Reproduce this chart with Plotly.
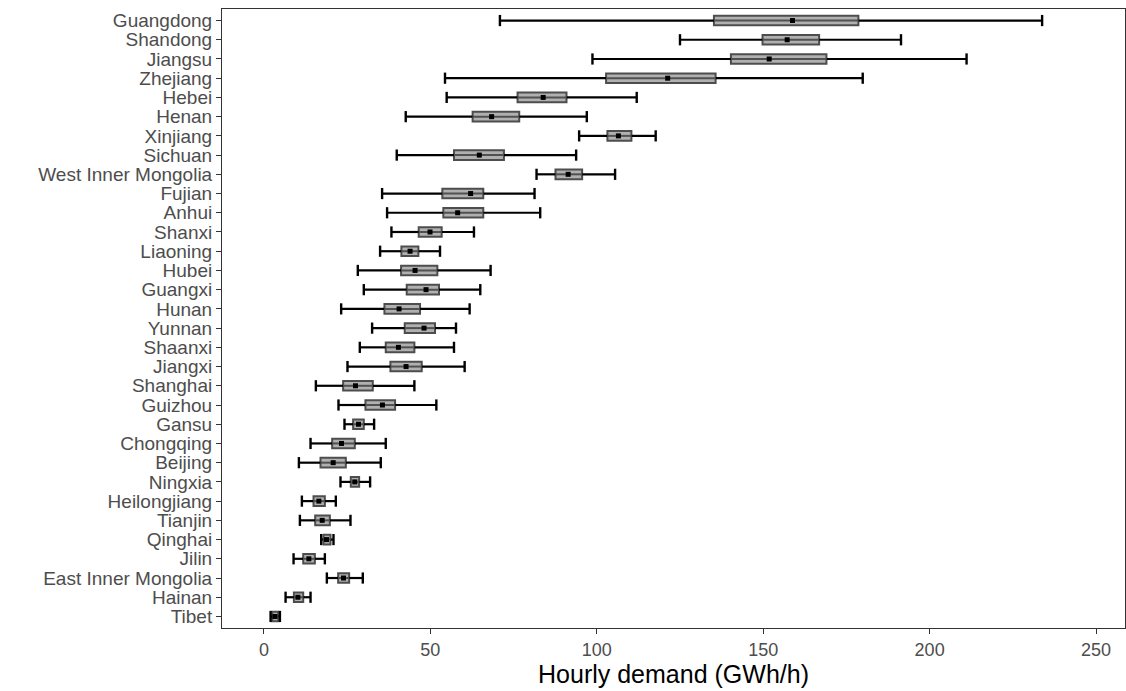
import plotly.graph_objects as go

provinces = ["Guangdong", "Shandong", "Jiangsu", "Zhejiang", "Hebei", "Henan", "Xinjiang",
             "Sichuan", "West Inner Mongolia", "Fujian", "Anhui", "Shanxi", "Liaoning", "Hubei",
             "Guangxi", "Hunan", "Yunnan", "Shaanxi", "Jiangxi", "Shanghai", "Guizhou", "Gansu",
             "Chongqing", "Beijing", "Ningxia", "Heilongjiang", "Tianjin", "Qinghai", "Jilin",
             "East Inner Mongolia", "Hainan", "Tibet"]

min_v = [70.9, 125.0, 98.7, 54.4, 54.9, 42.6, 94.7, 39.9, 81.9, 35.5, 37.0, 38.3, 34.9, 28.2,
         30.0, 23.2, 32.5, 28.8, 25.1, 15.6, 22.4, 24.2, 14.0, 10.5, 23.0, 11.4, 10.8, 17.2,
         8.9, 18.9, 6.5, 2.0]
q1_v = [135.2, 149.8, 140.3, 102.8, 76.2, 62.7, 103.2, 57.1, 87.6, 53.6, 53.9, 46.5, 41.3, 41.2,
        42.9, 36.2, 42.3, 36.6, 38.0, 23.8, 30.5, 26.8, 20.5, 17.0, 26.1, 14.9, 15.4, 17.9,
        11.8, 22.3, 9.0, 2.5]
med_v = [158.8, 157.2, 151.8, 121.3, 83.9, 68.4, 106.5, 64.7, 91.4, 62.1, 58.2, 49.9, 43.9, 45.4,
         48.7, 40.6, 48.1, 40.4, 42.7, 27.5, 35.6, 28.4, 23.3, 20.8, 27.3, 16.5, 17.5, 18.8,
         13.5, 23.9, 10.2, 3.3]
q3_v = [178.6, 166.8, 169.0, 135.7, 90.9, 76.7, 110.4, 72.1, 95.6, 65.9, 65.9, 53.4, 46.4, 52.1,
        52.6, 46.9, 51.4, 45.2, 47.4, 32.7, 39.4, 30.0, 27.3, 24.6, 28.6, 18.3, 19.8, 20.0,
        15.3, 25.6, 11.8, 4.3]
max_v = [233.8, 191.4, 211.1, 179.9, 112.0, 97.0, 117.7, 93.8, 105.5, 81.3, 83.0, 63.1, 52.9, 68.1,
         65.0, 61.8, 57.7, 57.1, 60.3, 45.2, 51.8, 33.1, 36.6, 35.1, 31.9, 21.6, 26.0, 20.9,
         18.3, 29.7, 14.0, 4.8]

x_ticks = [0, 50, 100, 150, 200, 250]

fig = go.Figure()

# boxes (IQR)
fig.add_trace(go.Bar(
    y=provinces, x=[b - a for a, b in zip(q1_v, q3_v)], base=q1_v, orientation="h",
    width=0.5, marker=dict(color="#B0B0B0", line=dict(color="#4D4D4D", width=2)),
    hoverinfo="skip"))

# whisker segments outside the box
wx, wy = [], []
for p, a, b, c, d in zip(provinces, min_v, q1_v, q3_v, max_v):
    wx += [a, b, None, c, d, None]
    wy += [p, p, None, p, p, None]
fig.add_trace(go.Scatter(x=wx, y=wy, mode="lines", line=dict(color="black", width=2.2),
                         hoverinfo="skip", connectgaps=False))

# whisker line seen through the box
ix, iy = [], []
for p, b, c in zip(provinces, q1_v, q3_v):
    ix += [b, c, None]
    iy += [p, p, None]
fig.add_trace(go.Scatter(x=ix, y=iy, mode="lines", line=dict(color="#505050", width=2),
                         hoverinfo="skip", connectgaps=False))

# caps
fig.add_trace(go.Scatter(
    x=min_v + max_v, y=provinces + provinces, mode="markers",
    marker=dict(symbol="line-ns", size=8, line=dict(color="black", width=2.4)),
    hoverinfo="skip"))

# medians
fig.add_trace(go.Scatter(
    x=med_v, y=provinces, mode="markers",
    marker=dict(symbol="square", size=5, color="black", line=dict(width=0)),
    hoverinfo="skip"))

fig.update_layout(
    width=1126, height=691,
    margin=dict(l=222, r=1, t=9, b=63),
    plot_bgcolor="white", paper_bgcolor="white",
    showlegend=False, hovermode=False,
    font=dict(family="Liberation Sans, Arial, sans-serif"),
    xaxis=dict(
        range=[-12.6, 258.7], tickvals=x_ticks, ticktext=[str(t) for t in x_ticks],
        showgrid=False, zeroline=False, showline=True, mirror=True,
        linecolor="#333333", linewidth=1, ticks="outside", ticklen=5,
        tickcolor="#333333", tickfont=dict(size=18, color="#4D4D4D"),
        title=dict(text="Hourly demand (GWh/h)", font=dict(size=25, color="black"), standoff=6),
    ),
    yaxis=dict(
        type="category", categoryorder="array", categoryarray=provinces,
        tickmode="array", tickvals=provinces, ticktext=provinces,
        range=[len(provinces) - 0.4, -0.6],
        showgrid=False, zeroline=False, showline=True, mirror=True,
        linecolor="#333333", linewidth=1, ticks="outside", ticklen=5,
        tickcolor="#333333", tickfont=dict(size=19, color="#4D4D4D"),
    ),
)

fig.write_html("out.html")
